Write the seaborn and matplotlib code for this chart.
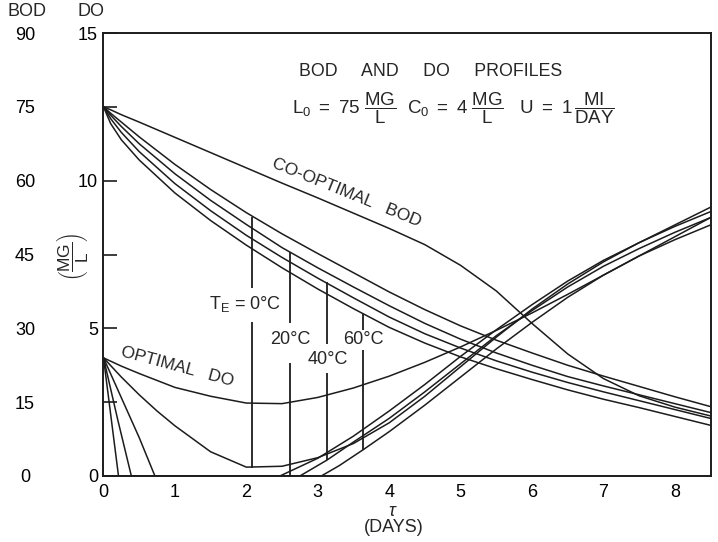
import matplotlib
matplotlib.use("Agg")
import matplotlib.pyplot as plt
import seaborn as sns

# ---------------- data ----------------
# BOD profiles (mg/L of BOD), read on the BOD scale
tau_bod = [0, 0.1, 0.25, 0.5, 1, 1.5, 2, 2.5, 3, 3.5, 4, 4.5, 5, 5.5, 6, 6.5, 7, 7.5, 8, 8.5]
bod_cooptimal = [75, 74.4, 73.4, 71.9, 68.8, 65.7, 62.6, 59.5, 56.5, 53.4, 50.3, 47.0,
                 42.8, 37.6, 31.0, 24.8, 19.8, 16.3, 14.0, 12.2]
bod_t0 = [75, 73.7, 71.9, 68.9, 63.3, 58.2, 53.5, 49.2, 45.2, 41.3, 37.4, 33.8,
          30.5, 27.6, 25.0, 22.5, 20.3, 18.2, 16.1, 14.1]
bod_t20 = [75, 73.3, 71.0, 67.5, 61.4, 56.0, 51.1, 46.4, 42.3, 38.4, 34.6, 31.0,
           27.8, 25.0, 22.5, 20.2, 18.3, 16.5, 14.7, 12.9]
bod_t40 = [75, 72.6, 69.8, 65.9, 59.4, 53.9, 48.9, 44.4, 40.2, 36.2, 32.3, 28.9,
           26.0, 23.4, 21.1, 19.0, 17.1, 15.3, 13.5, 11.7]
bod_t60 = [75, 71.6, 68.3, 64.2, 57.5, 51.9, 46.9, 42.3, 38.0, 34.0, 30.2, 27.0,
           24.2, 21.8, 19.6, 17.5, 15.6, 13.9, 12.1, 10.3]

# DO profiles (mg/L), read on the DO scale
tau_do_opt = [0, 0.25, 0.5, 1, 1.5, 2, 2.5, 3, 3.5, 4, 4.5, 5, 5.5, 6, 6.5, 7, 7.5, 8, 8.5]
do_optimal = [4.0, 3.72, 3.47, 3.0, 2.7, 2.47, 2.45, 2.66, 2.98, 3.38, 3.85, 4.37,
              4.93, 5.52, 6.15, 6.8, 7.45, 8.1, 8.75]

tau_do_t0 = [0, 0.25, 0.5, 0.75, 1, 1.5, 2, 2.5, 3, 3.5, 4, 4.5, 5, 5.5, 6, 6.5, 7, 7.5, 8, 8.5]
do_t0 = [4.0, 3.35, 2.75, 2.2, 1.7, 0.82, 0.3, 0.33, 0.62, 1.1, 1.8, 2.7, 3.7, 4.7,
         5.65, 6.5, 7.25, 7.9, 8.5, 9.1]

tau_do_t20 = [0, 0.25, 0.5, 0.72, 2.47, 3, 3.5, 4, 4.5, 5, 5.5, 6, 6.5, 7, 7.5, 8, 8.5]
do_t20 = [4.0, 2.65, 1.3, 0.0, 0.0, 0.6, 1.35, 2.2, 3.1, 4.05, 4.95, 5.8, 6.6, 7.3,
          7.9, 8.45, 8.95]

tau_do_t40 = [0, 0.2, 0.39, 2.75, 3.13, 3.5, 4, 4.5, 5, 5.5, 6, 6.5, 7, 7.5, 8, 8.5]
do_t40 = [4.0, 1.9, 0.0, 0.0, 0.54, 1.15, 1.95, 2.85, 3.8, 4.75, 5.6, 6.4, 7.1,
          7.7, 8.25, 8.75]

tau_do_t60 = [0, 0.21, 3.05, 3.3, 3.63, 4, 4.5, 5, 5.5, 6, 6.5, 7, 7.5, 8, 8.5]
do_t60 = [4.0, 0.0, 0.0, 0.35, 0.88, 1.5, 2.4, 3.35, 4.3, 5.2, 6.05, 6.8, 7.45,
          8.0, 8.5]

# critical-time markers for each effluent temperature
temp_labels = [r"$\mathrm{T_E}$ = 0°C", "20°C", "40°C", "60°C"]
tau_mark = [2.08, 2.61, 3.13, 3.63]
mark_bod_top = [52.6, 45.5, 39.4, 33.0]      # on the BOD curve
mark_bod_gap = [38.1, 31.0, 26.9, 29.6]      # upper segment ends (BOD scale)
mark_do_gap = [5.21, 3.82, 3.48, 4.26]       # lower segment starts (DO scale)
mark_do_bottom = [0.27, 0.0, 0.54, 0.88]     # on the DO curve

x_ticks = list(range(0, 9))
do_ticks = [0, 2.5, 5, 7.5, 10, 12.5, 15]
do_ticklabels = ["0", "", "5", "", "10", "", "15"]
bod_ticks = [0, 15, 30, 45, 60, 75, 90]

# ---------------- style ----------------
sns.set_theme(style="white")
plt.rcParams["font.family"] = ["Liberation Sans", "DejaVu Sans"]
plt.rcParams["mathtext.fontset"] = "custom"
plt.rcParams["mathtext.rm"] = "Liberation Sans"
plt.rcParams["mathtext.it"] = "Liberation Sans:italic"
plt.rcParams["mathtext.bf"] = "Liberation Sans:bold"

INK = "#1c1c1c"
W, H = 718, 542

fig = plt.figure(figsize=(W / 100, H / 100), dpi=100)
fig.patch.set_facecolor("white")
ax = fig.add_axes([103.5 / W, 1 - 476 / H, (710.5 - 103.5) / W, (476 - 33) / H])
ax.set_xlim(0, 8.5)
ax.set_ylim(0, 15)
ax_bod = ax.twinx()
ax_bod.set_ylim(0, 90)

curve_kw = dict(color=INK, linewidth=1.1, estimator=None, sort=False, legend=False)

for ys in (bod_cooptimal, bod_t0, bod_t20, bod_t40, bod_t60):
    sns.lineplot(x=tau_bod, y=ys, ax=ax_bod, **curve_kw)

sns.lineplot(x=tau_do_opt, y=do_optimal, ax=ax, **curve_kw)
sns.lineplot(x=tau_do_t0, y=do_t0, ax=ax, **curve_kw)
sns.lineplot(x=tau_do_t20, y=do_t20, ax=ax, **curve_kw)
sns.lineplot(x=tau_do_t40, y=do_t40, ax=ax, **curve_kw)
sns.lineplot(x=tau_do_t60, y=do_t60, ax=ax, **curve_kw)

# marker verticals: upper part on the BOD scale, lower part on the DO scale
ax_bod.vlines(tau_mark, mark_bod_gap, mark_bod_top, color=INK, linewidth=1.3)
ax.vlines(tau_mark, mark_do_bottom, mark_do_gap, color=INK, linewidth=1.3)

# ---------------- axes ----------------
for side in ("left", "right", "top", "bottom"):
    ax.spines[side].set_visible(True)
    ax.spines[side].set_color(INK)
    ax.spines[side].set_linewidth(1.4)
    ax_bod.spines[side].set_visible(False)

ax.set_xticks(x_ticks)
ax.set_xticklabels([str(t) for t in x_ticks])
ax.set_yticks(do_ticks)
ax.set_yticklabels(do_ticklabels)
ax.tick_params(axis="both", direction="in", length=10, width=1.2, colors=INK,
               labelsize=13, labelcolor="black")
ax.tick_params(axis="y", pad=4)
ax.tick_params(axis="x", pad=6)
ax.tick_params(right=False, top=False)

ax_bod.yaxis.tick_left()
ax_bod.spines["left"].set_position(("outward", (103.5 - 25) * 0.72))
ax_bod.set_yticks(bod_ticks)
ax_bod.set_yticklabels([str(b) for b in bod_ticks])
ax_bod.tick_params(axis="y", length=0, pad=0, labelsize=13, labelcolor="black")
for lbl in ax_bod.get_yticklabels():
    lbl.set_horizontalalignment("center")
ax.set_xlabel("")
ax.set_ylabel("")
ax_bod.set_ylabel("")

# ---------------- text ----------------
fig.text(26.7 / W, 1 - 11 / H, "BOD", ha="center", va="center", fontsize=13)
fig.text(91 / W, 1 - 11 / H, "DO", ha="center", va="center", fontsize=13)
fig.text(72.5 / W, 1 - 256.5 / H, r"$\left(\dfrac{\mathrm{MG}}{\mathrm{L}}\right)$",
         rotation=90, ha="center", va="center", fontsize=12.5)
fig.text(393 / W, 1 - 511 / H, r"$\tau$", ha="center", va="center", fontsize=13)
fig.text(393.5 / W, 1 - 528 / H, "(DAYS)", ha="center", va="center", fontsize=13)

fig.text(430.5 / W, 1 - 71 / H, "BOD     AND     DO     PROFILES", ha="center",
         va="center", fontsize=12.8)
fig.text(453.5 / W, 1 - 108.5 / H,
         r"$\mathrm{L_0}\ =\ 75\ \dfrac{\mathrm{MG}}{\mathrm{L}}\ \ "
         r"\mathrm{C_0}\ =\ 4\ \dfrac{\mathrm{MG}}{\mathrm{L}}\quad"
         r"\mathrm{U}\ =\ 1\,\dfrac{\mathrm{MI}}{\mathrm{DAY}}$",
         ha="center", va="center", fontsize=13.5)

fig.text(347 / W, 1 - 193 / H, "CO-OPTIMAL   BOD", ha="center", va="center",
         rotation=-22, fontsize=12.5)
fig.text(177 / W, 1 - 367 / H, "OPTIMAL   DO", ha="center", va="center",
         rotation=-15, fontsize=12.5)

label_px = [(245, 303.5), (290.3, 339.5), (328, 359.3), (363.5, 339.3)]
for text, (px, py) in zip(temp_labels, label_px):
    fig.text(px / W, 1 - py / H, text, ha="center", va="center", fontsize=13)

fig.savefig("out.png", dpi=100)
